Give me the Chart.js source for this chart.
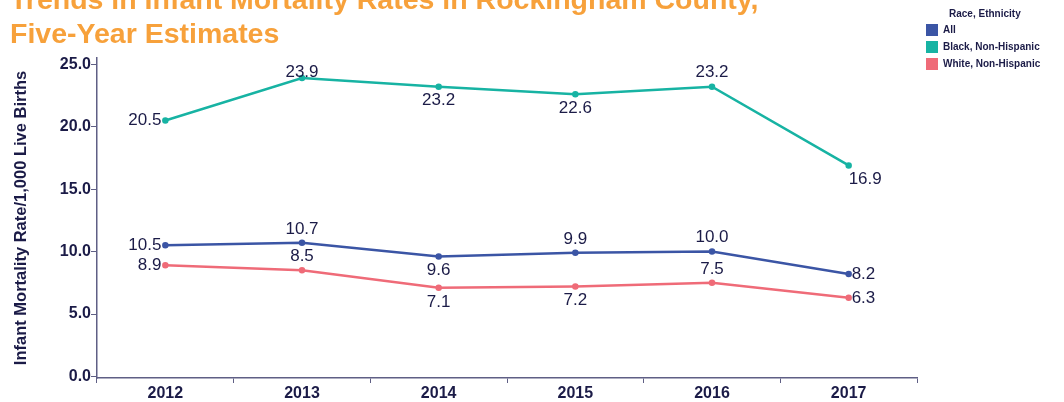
<!DOCTYPE html>
<html>
<head>
<meta charset="utf-8">
<script src="https://cdn.jsdelivr.net/npm/chart.js@4"></script>
<style>
  body { margin: 0; background: #fff; font-family: "Liberation Sans", Arial, sans-serif; }
  #wrap { position: relative; width: 1064px; height: 402px; overflow: hidden; }
  #title { position: absolute; left: 10px; top: -18px; color: #f7a13b; font-weight: bold; font-size: 28.5px; line-height: 34px; white-space: nowrap; }
  #legend { position: absolute; left: 926px; top: 7px; color: #1b1b47; font-weight: bold; font-size: 10px; }
  #legend .lt { margin-left: 23px; height: 14px; line-height: 14px; }
  #legend .it { height: 17px; display: flex; align-items: center; }
  #legend .bx { width: 12px; height: 12px; margin-right: 5px; }
</style>
</head>
<body>
<div id="wrap">
  <canvas id="chart" width="1064" height="402"></canvas>
  <div id="title">Trends in Infant Mortality Rates in Rockingham County,<br>Five-Year Estimates</div>
  <div id="legend"><div class="lt">Race, Ethnicity</div></div>
</div>
<script>
// datos
const years = ['2012', '2013', '2014', '2015', '2016', '2017'];
const allRates = [10.5, 10.7, 9.6, 9.9, 10.0, 8.2];
const blackRates = [20.5, 23.9, 23.2, 22.6, 23.2, 16.9];
const whiteRates = [8.9, 8.5, 7.1, 7.2, 7.5, 6.3];
const yTicks = [0, 5, 10, 15, 20, 25];

// donde va cada etiqueta respecto al punto
const allPos = ['left', 'top', 'bottom', 'top', 'top', 'right'];
const blackPos = ['left', 'topnear', 'bottom', 'bottom', 'top', 'bottomright'];
const whitePos = ['left', 'top', 'bottom', 'bottom', 'top', 'right'];

const navy = '#1b1b47';
const axisColor = '#5f5f85';

const series = [
  { label: 'All', data: allRates, color: '#3b55a5', pos: allPos },
  { label: 'Black, Non-Hispanic', data: blackRates, color: '#17b3a3', pos: blackPos },
  { label: 'White, Non-Hispanic', data: whiteRates, color: '#ef6b78', pos: whitePos }
];

// leyenda
const legend = document.getElementById('legend');
series.forEach(s => {
  const row = document.createElement('div');
  row.className = 'it';
  row.innerHTML = '<div class="bx" style="background:' + s.color + '"></div>' + s.label;
  legend.appendChild(row);
});

const valueLabels = {
  id: 'valueLabels',
  afterDatasetsDraw(chart) {
    const ctx = chart.ctx;
    ctx.save();
    ctx.font = '17px "Liberation Sans", Arial, sans-serif';
    ctx.fillStyle = navy;
    chart.data.datasets.forEach((ds, i) => {
      const meta = chart.getDatasetMeta(i);
      meta.data.forEach((pt, j) => {
        const txt = ds.data[j].toFixed(1);
        const p = series[i].pos[j];
        let x = pt.x, y = pt.y;
        ctx.textBaseline = 'middle';
        if (p === 'left') { ctx.textAlign = 'right'; x -= 4; }
        else if (p === 'right') { ctx.textAlign = 'left'; x += 3; }
        else if (p === 'top') { ctx.textAlign = 'center'; y -= 14; }
        else if (p === 'topnear') { ctx.textAlign = 'center'; y -= 6; }
        else if (p === 'bottom') { ctx.textAlign = 'center'; y += 14; }
        else { ctx.textAlign = 'left'; y += 14; }
        ctx.fillText(txt, x, y);
      });
    });
    ctx.restore();
  }
};

const ctx = document.getElementById('chart').getContext('2d');
const chart = new Chart(ctx, {
  type: 'line',
  data: {
    labels: years,
    datasets: series.map(s => ({
      label: s.label,
      data: s.data,
      borderColor: s.color,
      backgroundColor: s.color,
      borderWidth: 2.5,
      pointRadius: 2,
      pointHoverRadius: 2,
      tension: 0
    }))
  },
  options: {
    responsive: false,
    animation: false,
    events: [],
    layout: { padding: { top: 58, right: 147, left: 0, bottom: 0 } },
    plugins: {
      legend: { display: false },
      tooltip: { enabled: false }
    },
    scales: {
      x: {
        offset: true,
        grid: { offset: true, drawOnChartArea: false, tickLength: 5, color: axisColor, lineWidth: 1 },
        border: { color: axisColor, width: 1.5 },
        ticks: { color: navy, font: { family: '"Liberation Sans", Arial', size: 16, weight: 'bold' }, padding: 1 },
        afterFit(scale) { scale.height = 24; }
      },
      y: {
        min: -0.12,
        max: 25.5,
        grid: { drawOnChartArea: false, tickLength: 6, color: axisColor, lineWidth: 1 },
        border: { color: axisColor, width: 1.5 },
        ticks: {
          color: navy,
          font: { family: '"Liberation Sans", Arial', size: 16, weight: 'bold' },
          padding: 0,
          callback: v => v.toFixed(1)
        },
        afterBuildTicks(scale) { scale.ticks = yTicks.map(v => ({ value: v })); },
        title: {
          display: true,
          text: 'Infant Mortality Rate/1,000 Live Births',
          color: navy,
          font: { family: '"Liberation Sans", Arial', size: 16.5, weight: 'bold' },
          padding: { top: 12, bottom: 0 }
        },
        afterFit(scale) { scale.width = 97; }
      }
    }
  },
  plugins: [valueLabels]
});
</script>
</body>
</html>
